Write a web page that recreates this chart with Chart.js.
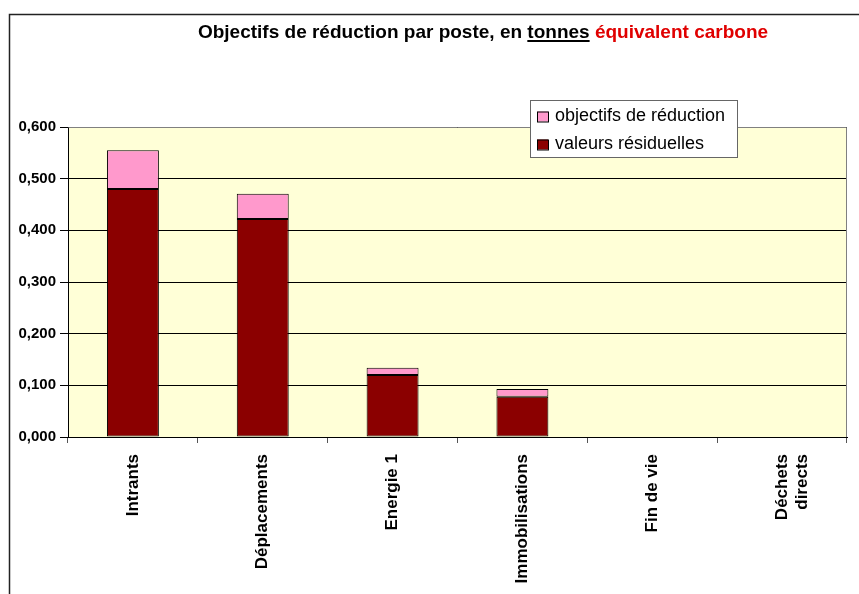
<!DOCTYPE html>
<html>
<head>
<meta charset="utf-8">
<style>
  html, body { margin: 0; padding: 0; background: #fff; }
  canvas { display: block; }
</style>
<script src="https://cdn.jsdelivr.net/npm/chart.js@4/dist/chart.umd.min.js"></script>
</head>
<body>
<canvas id="myChart" width="859" height="594"></canvas>
<script>
const categories = ['Intrants', 'Déplacements', 'Energie 1', 'Immobilisations', 'Fin de vie', ['Déchets', 'directs']];
const valeursResiduelles = [0.480, 0.422, 0.120, 0.078, 0, 0];
const objectifsReduction = [0.075, 0.049, 0.014, 0.015, 0, 0];
const yTickLabels = ['0,000', '0,100', '0,200', '0,300', '0,400', '0,500', '0,600'];

const FONT = '"Liberation Sans", Arial, sans-serif';

// cream plot area, grey frame on top/right, outer border of the chart object
const backgroundPlugin = {
  id: 'plotBackground',
  beforeDraw(chart) {
    const { ctx, chartArea: a } = chart;
    ctx.save();
    ctx.fillStyle = '#fff';
    ctx.fillRect(0, 0, chart.width, chart.height);
    ctx.strokeStyle = '#222';
    ctx.lineWidth = 1.5;
    ctx.strokeRect(9.5, 14.5, chart.width + 20, chart.height + 20);
    ctx.fillStyle = '#FFFFD7';
    ctx.fillRect(a.left, a.top, a.right - a.left, a.bottom - a.top);
    ctx.restore();
  },
  afterDraw(chart) {
    const { ctx, chartArea: a } = chart;
    ctx.save();
    ctx.strokeStyle = '#808080';
    ctx.lineWidth = 1;
    ctx.beginPath();
    ctx.moveTo(Math.round(a.left) + 0.5, Math.round(a.top) + 0.5);
    ctx.lineTo(Math.round(a.right) - 0.5, Math.round(a.top) + 0.5);
    ctx.lineTo(Math.round(a.right) - 0.5, Math.round(a.bottom));
    ctx.stroke();
    ctx.restore();
  }
};

// title with an underlined word and a red part
const titlePlugin = {
  id: 'mixedTitle',
  afterDraw(chart) {
    const ctx = chart.ctx;
    const parts = [
      { text: 'Objectifs de réduction par poste, en ', color: '#000' },
      { text: 'tonnes', color: '#000', underline: true },
      { text: ' ', color: '#000' },
      { text: 'équivalent carbone', color: '#E00000' }
    ];
    ctx.save();
    ctx.font = 'bold 19px ' + FONT;
    ctx.textBaseline = 'alphabetic';
    ctx.textAlign = 'left';
    const total = parts.reduce((s, p) => s + ctx.measureText(p.text).width, 0);
    let x = 483 - total / 2;
    const y = 38;
    parts.forEach(p => {
      const w = ctx.measureText(p.text).width;
      ctx.fillStyle = p.color;
      ctx.fillText(p.text, x, y);
      if (p.underline) {
        ctx.fillRect(x, y + 2, w, 2);
      }
      x += w;
    });
    ctx.restore();
  }
};

// boxed legend inside the top of the plot, top series first
const legendPlugin = {
  id: 'boxLegend',
  afterDraw(chart) {
    const ctx = chart.ctx;
    const box = { x: 530, y: 100, w: 207, h: 57 };
    ctx.save();
    ctx.fillStyle = '#fff';
    ctx.fillRect(box.x, box.y, box.w, box.h);
    ctx.strokeStyle = '#666';
    ctx.lineWidth = 1;
    ctx.strokeRect(box.x + 0.5, box.y + 0.5, box.w, box.h);
    ctx.font = '18px ' + FONT;
    ctx.textBaseline = 'middle';
    const items = chart.data.datasets.slice().reverse();
    items.forEach((ds, i) => {
      const cy = box.y + 16.5 + i * 28;
      ctx.fillStyle = ds.backgroundColor;
      ctx.fillRect(537, cy - 5, 11, 10);
      ctx.strokeStyle = '#000';
      ctx.strokeRect(537.5, cy - 4.5, 11, 10);
      ctx.fillStyle = '#000';
      ctx.fillText(ds.label, 555, cy);
    });
    ctx.restore();
  }
};

const ctx = document.getElementById('myChart').getContext('2d');
const chart = new Chart(ctx, {
  type: 'bar',
  data: {
    labels: categories,
    datasets: [
      {
        label: 'valeurs résiduelles',
        data: valeursResiduelles,
        backgroundColor: '#8B0000',
        borderColor: '#000',
        borderWidth: 1,
        borderSkipped: false
      },
      {
        label: 'objectifs de réduction',
        data: objectifsReduction,
        backgroundColor: '#FF99CC',
        borderColor: '#000',
        borderWidth: 1,
        borderSkipped: false
      }
    ]
  },
  options: {
    responsive: false,
    animation: false,
    devicePixelRatio: 1,
    layout: { padding: { top: 127, right: 12, left: 0, bottom: 0 } },
    datasets: { bar: { barPercentage: 0.4, categoryPercentage: 1.0 } },
    plugins: {
      legend: { display: false },
      title: { display: false },
      tooltip: { enabled: false }
    },
    scales: {
      x: {
        stacked: true,
        afterFit: scale => { scale.height = 157; },
        border: { color: '#000', width: 1 },
        grid: {
          offset: true,
          drawOnChartArea: false,
          drawTicks: true,
          tickLength: 6,
          tickColor: '#555'
        },
        ticks: {
          autoSkip: false,
          minRotation: 90,
          maxRotation: 90,
          padding: 11,
          color: '#000',
          font: { family: FONT, size: 17, weight: 'bold' }
        }
      },
      y: {
        stacked: true,
        min: 0,
        max: 0.6,
        afterFit: scale => { scale.width = 68; },
        border: { color: '#000', width: 1 },
        grid: {
          color: '#000',
          drawTicks: true,
          tickLength: 8
        },
        ticks: {
          stepSize: 0.1,
          padding: 4,
          color: '#000',
          font: { family: FONT, size: 15, weight: 'bold' },
          callback: (value, index) => yTickLabels[index]
        }
      }
    }
  },
  plugins: [backgroundPlugin, titlePlugin, legendPlugin]
});
</script>
</body>
</html>
